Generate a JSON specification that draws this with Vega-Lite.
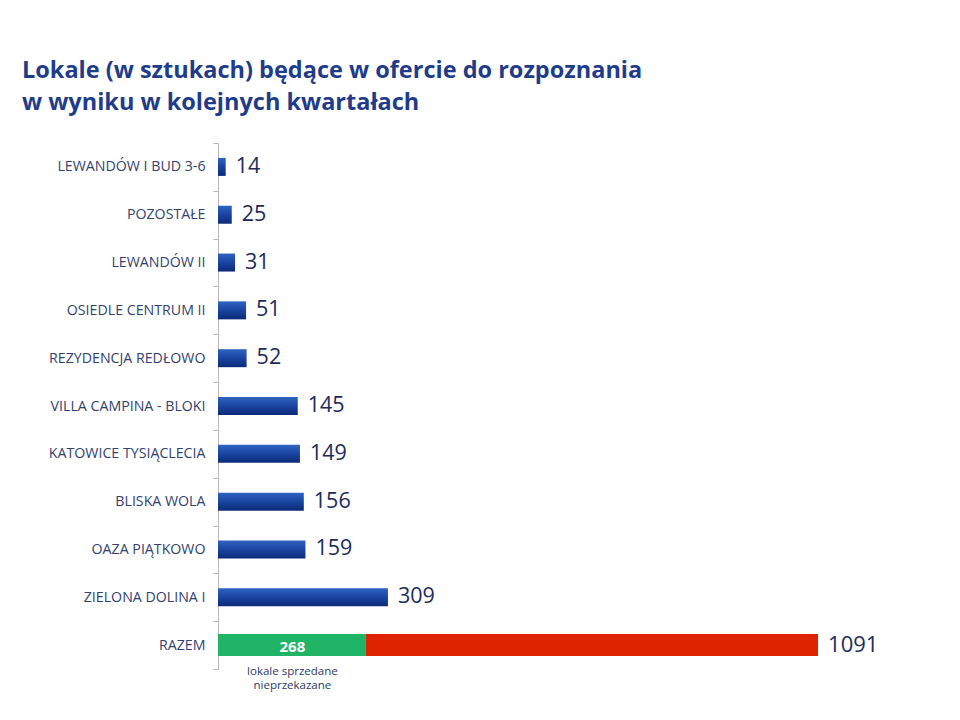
{
  "$schema": "https://vega.github.io/schema/vega-lite/v6.json",
  "width": 715,
  "height": 526,
  "autosize": {"type": "none"},
  "padding": {"left": 218, "top": 143, "right": 27, "bottom": 51},
  "background": "white",
  "config": {"view": {"stroke": null}, "font": "Open Sans"},
  "title": {
    "text": ["Lokale (w sztukach) będące w ofercie do rozpoznania", "w wyniku w kolejnych kwartałach"],
    "anchor": "start",
    "frame": "group",
    "dx": -196,
    "dy": 8,
    "offset": 30,
    "font": "Open Sans",
    "fontSize": 23.5,
    "fontWeight": "bold",
    "color": "#1f3c8a",
    "lineHeight": 32
  },
  "data": {
    "values": [
      {"c": "LEWANDÓW I BUD 3-6", "v": 14, "grp": "blue"},
      {"c": "POZOSTAŁE", "v": 25, "grp": "blue"},
      {"c": "LEWANDÓW II", "v": 31, "grp": "blue"},
      {"c": "OSIEDLE CENTRUM II", "v": 51, "grp": "blue"},
      {"c": "REZYDENCJA REDŁOWO", "v": 52, "grp": "blue"},
      {"c": "VILLA CAMPINA - BLOKI", "v": 145, "grp": "blue"},
      {"c": "KATOWICE TYSIĄCLECIA", "v": 149, "grp": "blue"},
      {"c": "BLISKA WOLA", "v": 156, "grp": "blue"},
      {"c": "OAZA PIĄTKOWO", "v": 159, "grp": "blue"},
      {"c": "ZIELONA DOLINA I", "v": 309, "grp": "blue"},
      {"c": "RAZEM", "start": 0, "end": 268, "part": "sprzedane", "grp": "razem", "label": "268", "note": "lokale sprzedane\nnieprzekazane"},
      {"c": "RAZEM", "start": 268, "end": 1091, "part": "pozostałe", "grp": "razem", "label": "1091"}
    ]
  },
  "encoding": {
    "y": {
      "field": "c",
      "type": "nominal",
      "sort": null,
      "scale": {"paddingInner": 0, "paddingOuter": 0},
      "axis": {
        "title": null,
        "domainColor": "#b8b8b8",
        "tickColor": "#b8b8b8",
        "tickSize": 5,
        "tickBand": "extent",
        "labelPadding": 8,
        "labelFont": "Open Sans",
        "labelFontSize": 14.2,
        "labelColor": "#33426f",
        "labelLimit": 250
      }
    }
  },
  "layer": [
    {
      "transform": [{"filter": "datum.grp == 'blue'"}],
      "mark": {
        "type": "bar",
        "height": 18,
        "color": {
          "gradient": "linear", "x1": 0, "y1": 0, "x2": 0, "y2": 1,
          "stops": [{"offset": 0, "color": "#2f63c0"}, {"offset": 0.5, "color": "#1a44a0"}, {"offset": 1, "color": "#0c2a78"}]
        }
      },
      "encoding": {
        "x": {"field": "v", "type": "quantitative", "scale": {"domain": [0, 1300], "nice": false}, "axis": null}
      }
    },
    {
      "transform": [{"filter": "datum.grp == 'blue'"}],
      "mark": {"type": "text", "align": "left", "dx": 10, "fontSize": 21.5, "color": "#1d2b5c", "font": "Open Sans"},
      "encoding": {
        "x": {"field": "v", "type": "quantitative"},
        "text": {"field": "v", "type": "quantitative"}
      }
    },
    {
      "transform": [{"filter": "datum.grp == 'razem'"}],
      "mark": {"type": "bar", "height": 22},
      "encoding": {
        "x": {"field": "start", "type": "quantitative"},
        "x2": {"field": "end"},
        "color": {"field": "part", "type": "nominal", "scale": {"domain": ["sprzedane", "pozostałe"], "range": ["#20b466", "#de2300"]}, "legend": null}
      }
    },
    {
      "transform": [{"filter": "datum.part == 'sprzedane'"}],
      "mark": {"type": "text", "align": "center", "dx": -73, "dy": 2, "fontSize": 15, "fontWeight": "bold", "color": "white", "font": "Open Sans"},
      "encoding": {
        "x": {"field": "end", "type": "quantitative"},
        "text": {"field": "label"}
      }
    },
    {
      "transform": [{"filter": "datum.part == 'sprzedane'"}],
      "mark": {"type": "text", "align": "center", "baseline": "top", "dx": -73, "dy": 21, "fontSize": 11.5, "color": "#2b3a66", "font": "Open Sans", "lineBreak": "\n", "lineHeight": 14},
      "encoding": {
        "x": {"field": "end", "type": "quantitative"},
        "text": {"field": "note"}
      }
    },
    {
      "transform": [{"filter": "datum.part == 'pozostałe'"}],
      "mark": {"type": "text", "align": "left", "dx": 10, "fontSize": 22, "color": "#1d2b5c", "font": "Open Sans"},
      "encoding": {
        "x": {"field": "end", "type": "quantitative"},
        "text": {"field": "label"}
      }
    }
  ]
}
